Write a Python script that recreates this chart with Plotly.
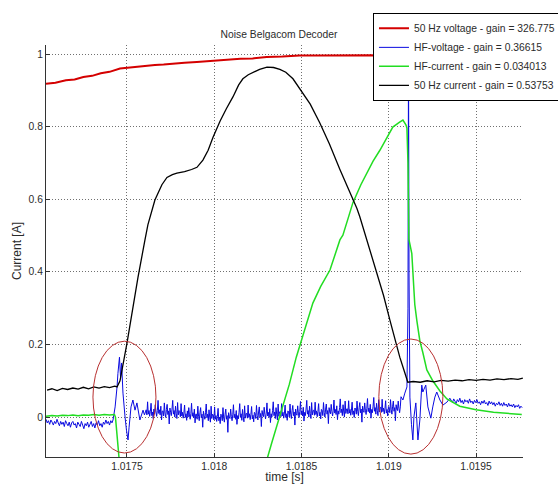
import plotly.graph_objects as go

# ---------------- data (time in microseconds after 1.017 s, current in A) ----------------
T0 = 1.017

red_t_us = [36, 90, 150, 200, 250, 300, 350, 400, 460, 510, 560, 610, 660, 710, 763, 830, 900, 950,
            1010, 1080, 1150, 1220, 1300, 1390, 1490, 1600, 1700, 1800, 1900, 2000, 2100, 2200,
            2293, 2350, 2400, 2450, 2504, 2550, 2600, 2640, 2680, 2720, 2762]
red_v = [0.918, 0.921, 0.928, 0.930, 0.937, 0.940, 0.947, 0.951, 0.960, 0.963, 0.966, 0.967, 0.970,
         0.971, 0.974, 0.976, 0.978, 0.980, 0.982, 0.984, 0.987, 0.988, 0.992, 0.993, 0.996, 0.996,
         0.997, 0.998, 0.997, 0.995, 0.993, 0.986, 0.975, 0.966, 0.955, 0.947, 0.935, 0.928, 0.919,
         0.914, 0.906, 0.900, 0.891]

SAMPLE_STEP_US = 7
hfv_flat1_start_us = 36
hfv_flat1_v = [
    -0.006, -0.016, -0.010, -0.020, -0.008, -0.014, -0.022, -0.012, -0.018, -0.006, -0.016, -0.024,
    -0.012, -0.020, -0.014, -0.026, -0.010, -0.018, -0.024, -0.014, -0.028, -0.016, -0.012, -0.022,
    -0.018, -0.030, -0.014, -0.020, -0.026, -0.012, -0.022, -0.032, -0.018, -0.024, -0.014, -0.028,
    -0.020, -0.012, -0.026, -0.018, -0.030, -0.016, -0.022, -0.010, -0.024, -0.018, -0.028, -0.014,
    -0.020, -0.008, -0.018, -0.012, -0.022, -0.010, -0.016,
]

hfv_trans1_t_us = [420, 432, 443, 448, 457, 463, 469, 477, 489, 497, 506, 512, 523, 534, 546, 557,
                   574, 592, 600]
hfv_trans1_v = [-0.008, 0.028, 0.083, 0.120, 0.165, 0.110, 0.149, 0.066, 0.000, -0.036, -0.063,
                -0.028, 0.028, 0.047, 0.019, 0.039, -0.008, 0.019, 0.006]

MID_STEP_US = 4
hfv_mid_start_us = 610
hfv_mid_v = [
    0.020, 0.006, 0.042, 0.008, 0.018, 0.002, 0.016, 0.038, 0.004, 0.014, -0.004, 0.022,
    0.008, 0.034, 0.014, 0.002, 0.018, 0.046, 0.010, 0.020, 0.006, 0.030, -0.008, 0.016,
    0.017, 0.003, 0.039, 0.011, -0.001, 0.021, 0.035, 0.007, 0.017, -0.019, 0.025, 0.013,
    0.004, 0.022, 0.046, 0.008, 0.018, 0.000, 0.030, 0.010, -0.004, 0.040, 0.006, 0.018,
    0.015, 0.001, 0.037, 0.003, 0.013, -0.003, 0.011, 0.033, -0.001, 0.009, -0.009, 0.017,
    0.000, 0.026, 0.006, -0.006, 0.010, 0.038, 0.002, 0.012, -0.002, 0.022, -0.016, 0.008,
    0.008, -0.006, 0.030, 0.002, -0.010, 0.012, 0.026, -0.002, 0.008, -0.028, 0.016, 0.004,
    -0.006, 0.012, 0.036, -0.002, 0.008, -0.010, 0.020, 0.000, -0.014, 0.030, -0.004, 0.008,
    0.006, -0.008, 0.028, -0.006, 0.004, -0.012, 0.002, 0.024, -0.010, 0.000, -0.018, 0.008,
    0.004, -0.010, 0.026, -0.002, -0.014, 0.008, 0.022, -0.006, 0.004, -0.042, 0.012, 0.000,
    -0.004, 0.022, 0.002, -0.010, 0.006, 0.034, -0.002, 0.008, -0.006, 0.018, -0.020, 0.004,
    -0.005, 0.013, 0.037, -0.001, 0.009, -0.009, 0.021, 0.001, -0.013, 0.031, -0.003, 0.009,
    0.011, -0.003, 0.033, -0.001, 0.009, -0.007, 0.007, 0.029, -0.005, 0.005, -0.013, 0.013,
    0.010, -0.004, 0.032, 0.004, -0.008, 0.014, 0.028, 0.000, 0.010, -0.026, 0.018, 0.006,
    0.001, 0.027, 0.007, -0.005, 0.011, 0.039, 0.003, 0.013, -0.001, 0.023, -0.015, 0.009,
    0.000, 0.018, 0.042, 0.004, 0.014, -0.004, 0.026, 0.006, -0.008, 0.036, 0.002, 0.014,
    0.015, 0.001, 0.037, 0.003, 0.013, -0.003, 0.011, 0.033, -0.001, 0.009, -0.009, 0.017,
    0.014, 0.000, 0.036, 0.008, -0.004, 0.018, 0.032, 0.004, 0.014, -0.022, 0.022, 0.010,
    0.005, 0.031, 0.011, -0.001, 0.015, 0.043, 0.007, 0.017, 0.003, 0.027, -0.011, 0.013,
    0.004, 0.022, 0.046, 0.008, 0.018, 0.000, 0.030, 0.010, -0.004, 0.040, 0.006, 0.018,
    0.019, 0.005, 0.041, 0.007, 0.017, 0.001, 0.015, 0.037, 0.003, 0.013, -0.005, 0.021,
    0.018, 0.004, 0.040, 0.012, 0.000, 0.022, 0.036, 0.008, 0.018, -0.018, 0.026, 0.014,
    0.009, 0.035, 0.015, 0.003, 0.019, 0.047, 0.011, 0.021, 0.007, 0.031, -0.007, 0.017,
    0.008, 0.026, 0.050, 0.012, 0.022, 0.004, 0.034, 0.014, 0.000, 0.044, 0.010, 0.022,
    0.023, 0.009, 0.045, 0.011, 0.021, 0.005, 0.019, 0.041, 0.007, 0.017, -0.001, 0.025,
    0.022, 0.008, 0.044, 0.016, 0.004, 0.026, 0.040, 0.012, 0.022, -0.014, 0.030, 0.018,
    0.013, 0.039, 0.019, 0.007, 0.023, 0.051, 0.015, 0.025, 0.011, 0.035, -0.003, 0.021,
    0.012, 0.030, 0.054, 0.016, 0.026, 0.008, 0.038, 0.018, 0.004, 0.048, 0.014, 0.026,
    0.027, 0.013, 0.049, 0.015, 0.025, 0.009, 0.023, 0.045, 0.011, 0.021, 0.003, 0.029,
    0.026, 0.012, 0.048, 0.020, 0.008, 0.030, 0.044, 0.016, 0.026, -0.010, 0.034, 0.022,
    0.018, 0.044, 0.024, 0.012, 0.028, 0.056,
]

hfv_trans2_t_us = [2081, 2092, 2104, 2110, 2113, 2116, 2121, 2130, 2138, 2144, 2155, 2167, 2178,
                   2189, 2195, 2200, 2212, 2224, 2241, 2252, 2264, 2275, 2293, 2310, 2333, 2350]
hfv_trans2_v = [0.047, 0.066, 0.083, 0.300, 1.020, 0.400, 0.055, -0.020, -0.063, 0.000, 0.039,
                -0.063, -0.008, 0.088, 0.069, 0.075, 0.088, 0.028, -0.003, 0.028, 0.055, 0.069,
                0.047, 0.033, 0.041, 0.052]

hfv_flat2_start_us = 2365
hfv_flat2_v = [
    0.040, 0.050, 0.044, 0.038, 0.048, 0.042, 0.052, 0.040, 0.046, 0.036, 0.048, 0.042,
    0.046, 0.038, 0.050, 0.040, 0.044, 0.036, 0.046, 0.040, 0.048, 0.038, 0.042, 0.034,
    0.044, 0.038, 0.046, 0.036, 0.040, 0.032, 0.044, 0.036, 0.042, 0.034, 0.040, 0.030,
    0.038, 0.034, 0.042, 0.032, 0.038, 0.030, 0.040, 0.032, 0.036, 0.028, 0.038, 0.030,
    0.034, 0.028, 0.036, 0.026, 0.032, 0.028, 0.034, 0.024, 0.030, 0.026,
]

hfi_t_us = [36, 70, 100, 130, 160, 190, 220, 250, 280, 310, 340, 370, 400, 428, 434, 454, 480,
            1150, 1250, 1300, 1330, 1393, 1430, 1470, 1520, 1565, 1610, 1663, 1720, 1737, 1766,
            1794, 1840, 1874, 1910, 1949, 1990, 2023, 2060, 2081, 2098, 2104, 2110, 2115, 2132,
            2149, 2161, 2178, 2195, 2218, 2252, 2293, 2333, 2407, 2500, 2600, 2762]
hfi_v = [0.002, 0.004, 0.003, 0.005, 0.004, 0.006, 0.004, 0.006, 0.005, 0.007, 0.005, 0.007,
         0.006, 0.007, 0.000, -0.110, -0.500,
         -0.500, -0.220, -0.120, -0.070, 0.028, 0.090, 0.165, 0.245, 0.314, 0.360, 0.405, 0.488,
         0.501, 0.546, 0.590, 0.640, 0.672, 0.705, 0.735, 0.770, 0.799, 0.812, 0.818, 0.805,
         0.796, 0.700, 0.490, 0.450, 0.310, 0.265, 0.210, 0.178, 0.130, 0.100, 0.072, 0.050,
         0.030, 0.020, 0.013, 0.007]

lfi_t_us = [42, 70, 100, 130, 160, 190, 220, 250, 280, 310, 340, 370, 400, 430, 443, 460, 500,
            540, 563, 603, 620, 660, 700, 729, 760, 786, 830, 870, 901, 935, 965, 993, 1033, 1070,
            1107, 1140, 1164, 1195, 1222, 1260, 1302, 1340, 1376, 1410, 1451, 1491, 1550, 1605,
            1660, 1720, 1770, 1817, 1834, 1874, 1932, 1970, 2006, 2040, 2063, 2090, 2109, 2140,
            2180, 2220, 2260, 2300, 2340, 2380, 2420, 2460, 2500, 2540, 2580, 2620, 2660, 2700,
            2740, 2768]
lfi_v = [0.074, 0.078, 0.073, 0.079, 0.076, 0.080, 0.077, 0.082, 0.078, 0.083, 0.080, 0.084,
         0.081, 0.085, 0.083, 0.100, 0.204, 0.320, 0.385, 0.488, 0.530, 0.598, 0.640, 0.660,
         0.668, 0.672, 0.676, 0.682, 0.688, 0.708, 0.735, 0.771, 0.815, 0.850, 0.882, 0.915,
         0.932, 0.943, 0.950, 0.958, 0.964, 0.963, 0.958, 0.950, 0.932, 0.905, 0.862, 0.810,
         0.752, 0.682, 0.628, 0.575, 0.552, 0.488, 0.400, 0.335, 0.268, 0.205, 0.165, 0.125,
         0.096, 0.098, 0.096, 0.100, 0.097, 0.101, 0.099, 0.102, 0.100, 0.103, 0.101, 0.104,
         0.102, 0.105, 0.103, 0.106, 0.104, 0.107]

series_names = ["50 Hz voltage - gain = 326.775", "HF-voltage - gain = 0.36615",
                "HF-current - gain = 0.034013", "50 Hz current - gain = 0.53753"]

# highlighted regions (red ellipses): time span in us, current span in A
ellipse_t_us = [(305, 666), (1943, 2310)]
ellipse_v = [(-0.099, 0.209), (-0.102, 0.215)]

x_tick_vals = [1.0175, 1.018, 1.0185, 1.019, 1.0195]
x_tick_text = ["1.0175", "1.018", "1.0185", "1.019", "1.0195"]
y_tick_vals = [0, 0.2, 0.4, 0.6, 0.8, 1]
y_tick_text = ["0", "0.2", "0.4", "0.6", "0.8", "1"]
x_range = [1.017036, 1.019769]
y_range = [-0.11, 1.025]


def to_s(us_list):
    return [T0 + u * 1e-6 for u in us_list]


def sample_times(start_us, step_us, values):
    return [start_us + step_us * i for i in range(len(values))]


hfv_t_us = (sample_times(hfv_flat1_start_us, SAMPLE_STEP_US, hfv_flat1_v) + hfv_trans1_t_us
            + sample_times(hfv_mid_start_us, MID_STEP_US, hfv_mid_v) + hfv_trans2_t_us
            + sample_times(hfv_flat2_start_us, SAMPLE_STEP_US, hfv_flat2_v))
hfv_v = hfv_flat1_v + hfv_trans1_v + hfv_mid_v + hfv_trans2_v + hfv_flat2_v

FONT = "Liberation Sans, Arial, sans-serif"
TXT = "#2b2b2b"

fig = go.Figure()
fig.add_trace(go.Scatter(x=to_s(red_t_us), y=red_v, mode="lines", name=series_names[0],
                         line=dict(color="#d40000", width=2)))
fig.add_trace(go.Scatter(x=to_s(hfv_t_us), y=hfv_v, mode="lines", name=series_names[1],
                         line=dict(color="#0a0ae0", width=1, simplify=False)))
fig.add_trace(go.Scatter(x=to_s(hfi_t_us), y=hfi_v, mode="lines", name=series_names[2],
                         line=dict(color="#22dd22", width=1.5)))
fig.add_trace(go.Scatter(x=to_s(lfi_t_us), y=lfi_v, mode="lines", name=series_names[3],
                         line=dict(color="#000000", width=1.3)))

for (ta, tb), (va, vb) in zip(ellipse_t_us, ellipse_v):
    fig.add_shape(type="circle", xref="x", yref="y", x0=T0 + ta * 1e-6, x1=T0 + tb * 1e-6,
                  y0=va, y1=vb, line=dict(color="#b83030", width=1))

fig.update_layout(
    width=558, height=484,
    margin=dict(l=46, r=35, t=45, b=27, autoexpand=False),
    paper_bgcolor="white", plot_bgcolor="white",
    font=dict(family=FONT, size=10.3, color=TXT),
    title=dict(text="Noise Belgacom Decoder", x=0.5, xanchor="center", y=1 - 34 / 484,
               yanchor="middle", font=dict(family=FONT, size=10.3, color=TXT)),
    showlegend=True,
    legend=dict(x=0.6855, xanchor="left", y=1.078, yanchor="top",
                bgcolor="white", bordercolor="#000000", borderwidth=1,
                font=dict(family=FONT, size=10.3, color=TXT), itemwidth=30),
    xaxis=dict(range=x_range, tickvals=x_tick_vals, ticktext=x_tick_text,
               showline=True, linecolor="#333333", linewidth=1, mirror=False,
               ticks="inside", ticklen=4, tickcolor="#333333",
               showgrid=True, gridcolor="#707070", griddash="1px,2px", gridwidth=1,
               zeroline=False, automargin=True, title=dict(text="time [s]", standoff=2)),
    yaxis=dict(range=y_range, tickvals=y_tick_vals, ticktext=y_tick_text,
               showline=True, linecolor="#333333", linewidth=1, mirror=False,
               ticks="inside", ticklen=4, tickcolor="#333333",
               showgrid=True, gridcolor="#707070", griddash="1px,2px", gridwidth=1,
               zeroline=False, title=dict(text="Current [A]", standoff=4)),
)

fig.write_html("out.html", config={"displayModeBar": False},
               post_script="document.body.style.margin='0';")
